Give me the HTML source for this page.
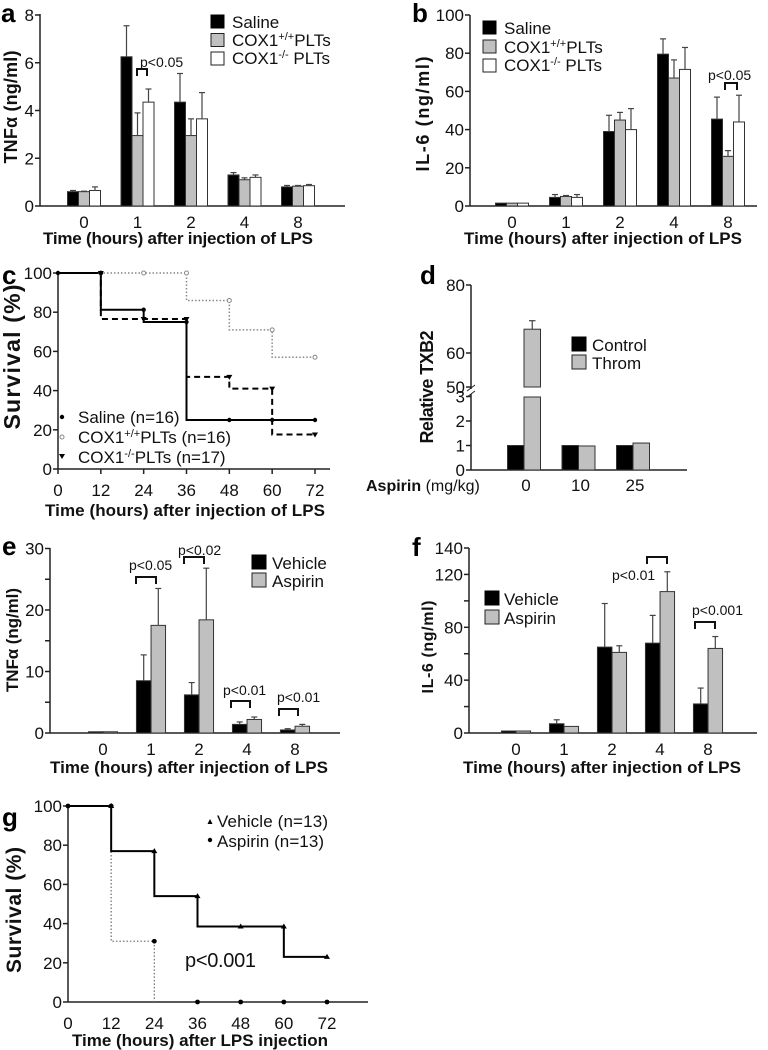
<!DOCTYPE html>
<html><head><meta charset="utf-8">
<style>
html,body{margin:0;padding:0;background:#fff;}
svg{display:block;font-family:"Liberation Sans",Arial,sans-serif;}
.tk{font-size:17px;fill:#111;}
.ttl{font-size:17px;font-weight:bold;fill:#111;}
.yt{font-size:18px;font-weight:bold;fill:#111;}
.lg{font-size:17px;fill:#111;}
.pl{font-size:26px;font-weight:bold;fill:#000;}
.pv{font-size:14px;fill:#111;}
</style></head>
<body>
<svg id="fig" width="768" height="1050" viewBox="0 0 768 1050" xmlns="http://www.w3.org/2000/svg">
<text class="pl" x="1" y="22">a</text>
<text class="pl" x="412" y="22">b</text>
<text class="pl" x="2" y="284">c</text>
<text class="pl" x="420" y="284">d</text>
<text class="pl" x="2" y="555">e</text>
<text class="pl" x="412" y="556">f</text>
<text class="pl" x="2" y="826">g</text>

<text class="ttl" x="178" y="244" text-anchor="middle" textLength="270">Time (hours) after injection of LPS</text>
<text class="ttl" x="603" y="244" text-anchor="middle" textLength="278">Time (hours) after injection of LPS</text>
<text class="ttl" x="185" y="516" text-anchor="middle" textLength="280">Time (hours) after injection of LPS</text>
<text class="ttl" x="189" y="773" text-anchor="middle" textLength="278">Time (hours) after injection of LPS</text>
<text class="ttl" x="602" y="773" text-anchor="middle" textLength="278">Time (hours) after injection of LPS</text>
<text class="ttl" x="200" y="1046" text-anchor="middle" textLength="256">Time (hours) after LPS injection</text>

<text class="yt" transform="translate(17,107) rotate(-90)" text-anchor="middle" textLength="113">TNFα (ng/ml)</text>
<text class="yt" transform="translate(429,114) rotate(-90)" text-anchor="middle" textLength="115">IL-6 (ng/ml)</text>
<text class="yt" transform="translate(20,357) rotate(-90)" text-anchor="middle" textLength="145" style="font-size:23px">Survival (%)</text>
<text class="yt" transform="translate(433,387) rotate(-90)" text-anchor="middle" textLength="113">Relative TXB2</text>
<text class="yt" transform="translate(18,640) rotate(-90)" text-anchor="middle" textLength="104" style="font-size:17px">TNFα (ng/ml)</text>
<text class="yt" transform="translate(433,647) rotate(-90)" text-anchor="middle" textLength="93" style="font-size:16px">IL-6 (ng/ml)</text>
<text class="yt" transform="translate(21,910) rotate(-90)" text-anchor="middle" textLength="126" style="font-size:21px">Survival (%)</text>
<text x="366" y="491" style="font-size:16px;fill:#111"><tspan font-weight="bold">Aspirin</tspan> (mg/kg)</text>

<g>
<rect x="211" y="15" width="13" height="13" fill="#000" stroke="#000"/>
<text class="lg" x="232" y="28">Saline</text>
<rect x="211" y="33.5" width="13" height="13" fill="#c0c0c0" stroke="#222"/>
<text class="lg" x="232" y="46">COX1<tspan dy="-6" font-size="11">+/+</tspan><tspan dy="6">PLTs</tspan></text>
<rect x="211" y="52" width="13" height="13" fill="#fff" stroke="#222"/>
<text class="lg" x="232" y="64">COX1<tspan dy="-6" font-size="11">-/-</tspan><tspan dy="6"> PLTs</tspan></text>
</g>
<g>
<rect x="483" y="21" width="13" height="13" fill="#000" stroke="#000"/>
<text class="lg" x="504" y="34">Saline</text>
<rect x="483" y="40" width="13" height="13" fill="#c0c0c0" stroke="#222"/>
<text class="lg" x="504" y="53">COX1<tspan dy="-6" font-size="11">+/+</tspan><tspan dy="6">PLTs</tspan></text>
<rect x="483" y="59" width="13" height="13" fill="#fff" stroke="#222"/>
<text class="lg" x="504" y="71">COX1<tspan dy="-6" font-size="11">-/-</tspan><tspan dy="6"> PLTs</tspan></text>
</g>
<g>
<circle cx="62" cy="417" r="2.2" fill="#000"/>
<text class="lg" x="78" y="423">Saline (n=16)</text>
<circle cx="62" cy="437" r="2" fill="#fff" stroke="#888"/>
<text class="lg" x="78" y="443">COX1<tspan dy="-6" font-size="11">+/+</tspan><tspan dy="6">PLTs (n=16)</tspan></text>
<path d="M59,454 L65,454 L62,459 Z" fill="#000"/>
<text class="lg" x="78" y="463">COX1<tspan dy="-6" font-size="11">-/-</tspan><tspan dy="6">PLTs (n=17)</tspan></text>
</g>
<g>
<rect x="572" y="337" width="14" height="14" fill="#000" stroke="#000"/>
<text class="lg" x="592" y="351">Control</text>
<rect x="572" y="355" width="14" height="14" fill="#c0c0c0" stroke="#222"/>
<text class="lg" x="592" y="369">Throm</text>
</g>
<g>
<rect x="252" y="555" width="14" height="14" fill="#000" stroke="#000"/>
<text class="lg" x="272" y="569">Vehicle</text>
<rect x="252" y="573" width="14" height="14" fill="#c0c0c0" stroke="#222"/>
<text class="lg" x="272" y="587">Aspirin</text>
</g>
<g>
<rect x="485" y="591" width="14" height="14" fill="#000" stroke="#000"/>
<text class="lg" x="504" y="605">Vehicle</text>
<rect x="485" y="610" width="14" height="14" fill="#c0c0c0" stroke="#222"/>
<text class="lg" x="504" y="624">Aspirin</text>
</g>
<g>
<path d="M207.5,824 L212.5,824 L210,819 Z" fill="#000"/>
<text class="lg" x="217" y="827" textLength="111">Vehicle (n=13)</text>
<circle cx="210" cy="840" r="2.2" fill="#000"/>
<text class="lg" x="217" y="847" textLength="107">Aspirin (n=13)</text>
</g>
<text x="185" y="967" style="font-size:20px;fill:#111" textLength="71">p&lt;0.001</text>

<text class="pv" x="140" y="67">p&lt;0.05</text>
<text class="pv" x="708" y="80">p&lt;0.05</text>
<text class="pv" x="129" y="570">p&lt;0.05</text>
<text class="pv" x="178" y="555">p&lt;0.02</text>
<text class="pv" x="223" y="695">p&lt;0.01</text>
<text class="pv" x="277" y="702">p&lt;0.01</text>
<text class="pv" x="612" y="580">p&lt;0.01</text>
<text class="pv" x="692" y="615">p&lt;0.001</text>
<g id="dyn"></g>
</svg>
<script>
const aCategories = ['0','1','2','4','8'];
const aSaline = [0.6, 6.25, 4.35, 1.3, 0.8];
const aSalineErr = [0.05, 1.3, 1.2, 0.1, 0.06];
const aCoxWT = [0.6, 2.95, 2.95, 1.1, 0.83];
const aCoxWTErr = [0.02, 0.95, 0.7, 0.08, 0.03];
const aCoxKO = [0.65, 4.35, 3.65, 1.2, 0.85];
const aCoxKOErr = [0.15, 0.55, 1.1, 0.1, 0.05];
const aTicks = [0, 2, 4, 6, 8];

const bCategories = ['0','1','2','4','8'];
const bSaline = [1.5, 4.5, 39, 79.5, 45.5];
const bSalineErr = [0, 1.5, 8.5, 8, 11.5];
const bCoxWT = [1.5, 5, 45, 67, 26];
const bCoxWTErr = [0, 0.5, 4, 9.5, 3];
const bCoxKO = [1.5, 4.5, 40, 71.5, 44];
const bCoxKOErr = [0, 1.5, 11, 11.5, 14];
const bTicks = [0, 20, 40, 60, 80, 100];

const cTimes = [0, 12, 24, 36, 48, 60, 72];
const cSaline = [100, 81.25, 75, 25, 25, 25];
const cCoxWT = [100, 100, 100, 86, 71, 57];
const cCoxKO = [100, 76.5, 76.5, 47, 41, 17.6];
const cTicksY = [0, 20, 40, 60, 80, 100];

const dCategories = ['0','10','25'];
const dControl = [1, 1, 1];
const dThrom = [67, 0.98, 1.1];
const dThromErr = [2.5, 0, 0];
const dTicksLow = [0, 1, 2, 3];
const dTicksHigh = [50, 60, 80];

const eCategories = ['0','1','2','4','8'];
const eVehicle = [0.2, 8.5, 6.2, 1.4, 0.5];
const eVehicleErr = [0, 4.2, 2, 0.4, 0.2];
const eAspirin = [0.2, 17.5, 18.4, 2.2, 1.1];
const eAspirinErr = [0, 6, 8.4, 0.4, 0.3];
const eTicks = [0, 5, 10, 15, 20, 25, 30];
const eTickLabels = ['0', '', '10', '', '20', '', '30'];

const fCategories = ['0','1','2','4','8'];
const fVehicle = [1.5, 7, 65, 68, 22];
const fVehicleErr = [0, 3, 33, 21, 12];
const fAspirin = [1.5, 5, 61, 107, 64];
const fAspirinErr = [0, 0, 5, 15, 9];
const fTicks = [0, 20, 40, 60, 80, 100, 120, 140];
const fTickLabels = ['0', '', '40', '', '80', '', '120', '140'];

const gTimes = [0, 12, 24, 36, 48, 60, 72];
const gVehicle = [100, 77, 54, 38.5, 38.5, 23];
const gAspirin = [100, 31, 0, 0, 0, 0];
const gTicksY = [0, 20, 40, 60, 80, 100];

const NS = 'http://www.w3.org/2000/svg';
const root = document.getElementById('dyn');
function mk(tag, attrs, parent) {
  const el = document.createElementNS(NS, tag);
  for (const k in attrs) el.setAttribute(k, attrs[k]);
  (parent || root).appendChild(el);
  return el;
}
function group(name) {
  const g = mk('g', {});
  
  
  return g;
}
function line(p, x1, y1, x2, y2, name, extra) {
  const a = Object.assign({x1: x1, y1: y1, x2: x2, y2: y2, stroke: '#222', 'stroke-width': 1.5}, extra || {});
  const el = mk('line', a, p);
  
  
  return el;
}
function label(p, x, y, txt, anchor, name, size) {
  const el = mk('text', {x: x, y: y, 'text-anchor': anchor, 'class': 'tk'}, p);
  if (size) el.setAttribute('style', 'font-size:' + size + 'px');
  el.textContent = txt;
  
  
  return el;
}
function yAxis(p, x, ticks, labels, yfn, y0, y1) {
  line(p, x, y0, x, y1, 'y-axis-line');
  ticks.forEach(function (t, i) {
    const y = yfn(t);
    line(p, x - 5, y, x, y, 'y-tick');
    if (labels[i] !== '') label(p, x - 6, y + 6, labels[i], 'end', 'y-tick-label');
  });
}
function bar(p, cx, w, v, err, yfn, base, fill, name) {
  const top = yfn(v);
  const r = mk('rect', {x: cx - w / 2, y: top, width: w, height: Math.max(0, base - top), fill: fill, stroke: '#333', 'stroke-width': 1}, p);
  
  
  if (err > 0) {
    const ye = yfn(v + err);
    line(p, cx, top, cx, ye, name + '-error', {stroke: '#444', 'stroke-width': 1.2});
    line(p, cx - 3, ye, cx + 3, ye, name + '-error-cap', {stroke: '#444', 'stroke-width': 1.2});
  }
}
function bracket(p, x1, x2, y, name) {
  const el = mk('path', {d: 'M' + x1 + ',' + (y + 7) + ' V' + y + ' H' + x2 + ' V' + (y + 7), fill: 'none', stroke: '#111', 'stroke-width': 2}, p);
  
  
}

(function () {
  const g = group('panel-a-chart');
  const yA = function (v) { return 206 - v * 191 / 8; };
  const xA = function (i) { return 84 + i * 53.5; };
  yAxis(g, 40, aTicks, aTicks.map(String), yA, 14, 206);
  line(g, 40, 206, 345, 206, 'x-axis-line');
  aCategories.forEach(function (c, i) {
    label(g, xA(i), 228, c, 'middle', 'x-tick-label');
    bar(g, xA(i) - 11, 11, aSaline[i], aSalineErr[i], yA, 206, '#000', 'bar-saline-' + c);
    bar(g, xA(i), 11, aCoxWT[i], aCoxWTErr[i], yA, 206, '#c0c0c0', 'bar-cox1-wt-' + c);
    bar(g, xA(i) + 11, 11, aCoxKO[i], aCoxKOErr[i], yA, 206, '#fff', 'bar-cox1-ko-' + c);
  });
  bracket(g, 137, 147, 69, 'a-significance-bracket');
})();

(function () {
  const g = group('panel-b-chart');
  const yB = function (v) { return 206 - v * 1.91; };
  const xB = function (i) { return 512 + i * 54; };
  yAxis(g, 470, bTicks, bTicks.map(String), yB, 15, 206);
  line(g, 470, 206, 757, 206, 'x-axis-line');
  bCategories.forEach(function (c, i) {
    label(g, xB(i), 228, c, 'middle', 'x-tick-label');
    bar(g, xB(i) - 11, 11, bSaline[i], bSalineErr[i], yB, 206, '#000', 'bar-saline-' + c);
    bar(g, xB(i), 11, bCoxWT[i], bCoxWTErr[i], yB, 206, '#c0c0c0', 'bar-cox1-wt-' + c);
    bar(g, xB(i) + 11, 11, bCoxKO[i], bCoxKOErr[i], yB, 206, '#fff', 'bar-cox1-ko-' + c);
  });
  bracket(g, 725, 737, 83, 'b-significance-bracket');
})();

function stepPath(times, vals, xf, yf) {
  let d = 'M' + xf(times[0]) + ',' + yf(vals[0]);
  for (let i = 0; i < vals.length; i++) {
    d += ' V' + yf(vals[i]) + ' H' + xf(times[i + 1]);
  }
  return d;
}

(function () {
  const g = group('panel-c-chart');
  const xC = function (t) { return 58 + t * 257 / 72; };
  const yC = function (v) { return 469 - v * 1.96; };
  yAxis(g, 58, cTicksY, cTicksY.map(String), yC, 273, 469);
  line(g, 58, 469, 330, 469, 'x-axis-line');
  cTimes.forEach(function (t) {
    line(g, xC(t), 469, xC(t), 474, 'x-tick');
    label(g, xC(t), 496, String(t), 'middle', 'x-tick-label');
  });
  const pW = mk('path', {d: stepPath(cTimes, cCoxWT, xC, yC), fill: 'none', stroke: '#888', 'stroke-width': 1.5, 'stroke-dasharray': '1.5,2'}, g);
  
  
  const pK = mk('path', {d: stepPath(cTimes, cCoxKO, xC, yC), fill: 'none', stroke: '#000', 'stroke-width': 2, 'stroke-dasharray': '6,4'}, g);
  
  
  const pS = mk('path', {d: stepPath(cTimes, cSaline, xC, yC), fill: 'none', stroke: '#000', 'stroke-width': 2}, g);
  
  
  for (let i = 1; i < cTimes.length; i++) {
    const x = xC(cTimes[i]);
    const m1 = mk('circle', {cx: x, cy: yC(cCoxWT[i - 1]), r: 2, fill: '#fff', stroke: '#888'}, g);
    
    
    const yk = yC(cCoxKO[i - 1]);
    const m2 = mk('path', {d: 'M' + (x - 3) + ',' + (yk - 2) + ' L' + (x + 3) + ',' + (yk - 2) + ' L' + x + ',' + (yk + 3) + ' Z', fill: '#000'}, g);
    
    
    const m3 = mk('circle', {cx: x, cy: yC(cSaline[i - 1]), r: 2.2, fill: '#000'}, g);
    
    
  }
  const m0 = mk('circle', {cx: xC(0), cy: yC(100), r: 2.2, fill: '#000'}, g);
  
  
})();

(function () {
  const g = group('panel-d-chart');
  const yD = function (v) { return v <= 3 ? 470 - v * 24.5 : 387 - (v - 50) * 3.4; };
  const xD = function (i) { return 524 + i * 54.5; };
  line(g, 471, 285, 471, 389, 'y-axis-upper');
  line(g, 471, 394, 471, 470, 'y-axis-lower');
  line(g, 467, 391, 475, 385, 'axis-break-mark', {'stroke-width': 1});
  line(g, 467, 397, 475, 391, 'axis-break-mark', {'stroke-width': 1});
  dTicksHigh.forEach(function (t) {
    line(g, 466, yD(t), 471, yD(t), 'y-tick');
    label(g, 465, yD(t) + 6, String(t), 'end', 'y-tick-label');
  });
  dTicksLow.forEach(function (t) {
    line(g, 466, yD(t), 471, yD(t), 'y-tick');
    label(g, 465, yD(t) + 6, String(t), 'end', 'y-tick-label');
  });
  line(g, 471, 470, 687, 470, 'x-axis-line');
  dCategories.forEach(function (c, i) {
    label(g, xD(i) + 2, 491, c, 'middle', 'x-tick-label');
    bar(g, xD(i) - 8.25, 16.5, dControl[i], 0, yD, 470, '#000', 'bar-control-' + c);
    const v = dThrom[i];
    if (v > 3) {
      const lo = mk('rect', {x: xD(i), y: yD(3) + 0.5, width: 16.5, height: 470 - yD(3) - 0.5, fill: '#c0c0c0', stroke: '#333'}, g);
      
      
      const hi = mk('rect', {x: xD(i), y: yD(v), width: 16.5, height: yD(50) - yD(v), fill: '#c0c0c0', stroke: '#333'}, g);
      
      
      const ye = yD(v + dThromErr[i]);
      line(g, xD(i) + 8.25, yD(v), xD(i) + 8.25, ye, 'bar-throm-error', {stroke: '#444', 'stroke-width': 1.2});
      line(g, xD(i) + 5, ye, xD(i) + 11.5, ye, 'bar-throm-error-cap', {stroke: '#444', 'stroke-width': 1.2});
    } else {
      bar(g, xD(i) + 8.25, 16.5, v, dThromErr[i], yD, 470, '#c0c0c0', 'bar-throm-' + c);
    }
  });
})();

(function () {
  const g = group('panel-e-chart');
  const yE = function (v) { return 733 - v * 6.15; };
  const xE = function (i) { return 103 + i * 48; };
  yAxis(g, 50, eTicks, eTickLabels, yE, 548, 733);
  line(g, 50, 733, 340, 733, 'x-axis-line');
  eCategories.forEach(function (c, i) {
    label(g, xE(i), 755, c, 'middle', 'x-tick-label');
    bar(g, xE(i) - 7.3, 14.5, eVehicle[i], eVehicleErr[i], yE, 733, '#000', 'bar-vehicle-' + c);
    bar(g, xE(i) + 7.3, 14.5, eAspirin[i], eAspirinErr[i], yE, 733, '#c0c0c0', 'bar-aspirin-' + c);
  });
  bracket(g, 136, 156, 577, 'e-bracket-1h');
  bracket(g, 184, 204, 557, 'e-bracket-2h');
  bracket(g, 231, 250, 701, 'e-bracket-4h');
  bracket(g, 279, 298, 709, 'e-bracket-8h');
})();

(function () {
  const g = group('panel-f-chart');
  const yF = function (v) { return 733 - v * 185 / 140; };
  const xF = function (i) { return 516 + i * 48; };
  yAxis(g, 469, fTicks, fTickLabels, yF, 548, 733);
  line(g, 469, 733, 757, 733, 'x-axis-line');
  fCategories.forEach(function (c, i) {
    label(g, xF(i), 755, c, 'middle', 'x-tick-label');
    bar(g, xF(i) - 7.3, 14.5, fVehicle[i], fVehicleErr[i], yF, 733, '#000', 'bar-vehicle-' + c);
    bar(g, xF(i) + 7.3, 14.5, fAspirin[i], fAspirinErr[i], yF, 733, '#c0c0c0', 'bar-aspirin-' + c);
  });
  bracket(g, 647, 667, 557, 'f-bracket-4h');
  bracket(g, 695, 715, 622, 'f-bracket-8h');
})();

(function () {
  const g = group('panel-g-chart');
  const xG = function (t) { return 68 + t * 259 / 72; };
  const yG = function (v) { return 1002 - v * 1.96; };
  yAxis(g, 68, gTicksY, gTicksY.map(String), yG, 806, 1002);
  line(g, 68, 1002, 368, 1002, 'x-axis-line');
  gTimes.forEach(function (t) {
    label(g, xG(t), 1029, String(t), 'middle', 'x-tick-label');
  });
  const pA = mk('path', {d: 'M' + xG(gTimes[1]) + ',' + yG(gAspirin[0]) + ' V' + yG(gAspirin[1]) + ' H' + xG(gTimes[2]) + ' V' + yG(gAspirin[2]), fill: 'none', stroke: '#777', 'stroke-width': 1.3, 'stroke-dasharray': '1.5,2'}, g);
  
  
  const pV = mk('path', {d: stepPath(gTimes, gVehicle, xG, yG), fill: 'none', stroke: '#000', 'stroke-width': 2}, g);
  
  
  for (let i = 1; i < gTimes.length; i++) {
    const x = xG(gTimes[i]);
    const yv = yG(gVehicle[i - 1]);
    const m1 = mk('path', {d: 'M' + (x - 3) + ',' + (yv + 2) + ' L' + (x + 3) + ',' + (yv + 2) + ' L' + x + ',' + (yv - 3) + ' Z', fill: '#000'}, g);
    
    
    const m2 = mk('circle', {cx: x, cy: yG(gAspirin[i - 1]), r: 2.4, fill: '#000'}, g);
    
    
  }
  const m0 = mk('circle', {cx: xG(0), cy: yG(100), r: 2.4, fill: '#000'}, g);
  
  
})();
</script>
</body></html>
